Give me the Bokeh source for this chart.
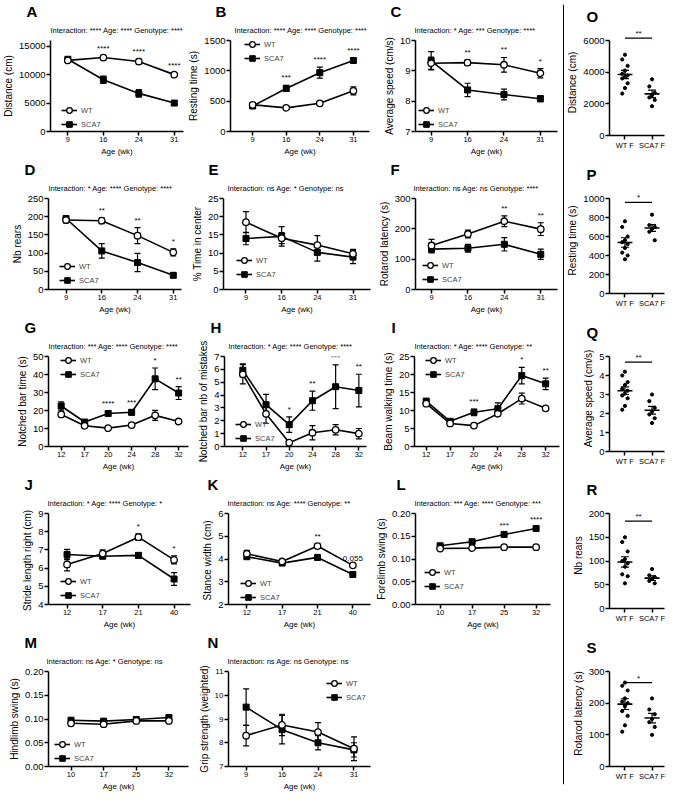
from bokeh.plotting import figure
from bokeh.models import (Range1d, FixedTicker, Whisker, TeeHead, ColumnDataSource,
                          Label, Legend, LegendItem, Span, PrintfTickFormatter, Title)
from bokeh.layouts import row, column
from bokeh.embed import file_html
from bokeh.resources import INLINE
from bokeh.core.properties import value

FONT = "Liberation Sans"

# ---------------- data ----------------
A_age = ["9", "16", "24", "31"]
A_wt = [12500, 13000, 12300, 10000]
A_wt_err = [300, 200, 450, 250]
A_sca = [12700, 9100, 6700, 5000]
A_sca_err = [300, 650, 650, 300]
A_sig = ["", "****", "****", "****"]
A_stats = "Interaction: **** Age: **** Genotype: ****"

B_age = ["9", "16", "24", "31"]
B_wt = [440, 390, 465, 670]
B_wt_err = [25, 25, 20, 65]
B_sca = [420, 710, 970, 1170]
B_sca_err = [25, 50, 90, 40]
B_sig = ["", "***", "****", "****"]
B_stats = "Interaction: **** Age: **** Genotype: ****"

C_age = ["9", "16", "24", "31"]
C_wt = [9.25, 9.27, 9.2, 8.92]
C_wt_err = [0.2, 0.08, 0.24, 0.15]
C_sca = [9.33, 8.37, 8.22, 8.08]
C_sca_err = [0.3, 0.22, 0.18, 0.1]
C_sig = ["", "**", "**", "*"]
C_stats = "Interaction: * Age: *** Genotype: ****"

D_age = ["9", "16", "24", "31"]
D_wt = [191, 189, 148, 102]
D_wt_err = [8, 8, 22, 10]
D_sca = [195, 106, 74, 39]
D_sca_err = [8, 20, 25, 6]
D_sig = ["", "**", "**", "*"]
D_stats = "Interaction: * Age: **** Genotype: ****"

E_age = ["9", "16", "24", "31"]
E_wt = [18.5, 14.1, 12.2, 9.8]
E_wt_err = [2.9, 1.5, 2.6, 1.2]
E_sca = [14.0, 14.6, 10.2, 8.9]
E_sca_err = [1.7, 2.7, 2.4, 1.8]
E_sig = ["", "", "", ""]
E_stats = "Interaction: ns Age: * Genotype: ns"

F_age = ["9", "16", "24", "31"]
F_wt = [145, 183, 225, 199]
F_wt_err = [20, 13, 18, 21]
F_sca = [133, 136, 149, 116]
F_sca_err = [12, 13, 22, 17]
F_sig = ["", "", "**", "**"]
F_stats = "Interaction: ns Age: ns Genotype: ****"

G_age = ["12", "17", "20", "24", "28", "32"]
G_wt = [17.8, 11.5, 10.2, 11.9, 17.3, 13.9]
G_wt_err = [1.0, 1.0, 0.6, 0.8, 2.8, 1.0]
G_sca = [22.5, 13.6, 18.3, 19.0, 37.6, 29.7]
G_sca_err = [2.3, 1.0, 1.5, 1.5, 6.0, 3.6]
G_sig = ["", "", "****", "***", "*", "**"]
G_stats = "Interaction: *** Age: **** Genotype: ****"

H_age = ["12", "17", "20", "24", "28", "32"]
H_wt = [5.62, 2.54, 0.3, 1.07, 1.3, 1.0]
H_wt_err = [0.75, 0.73, 0.1, 0.55, 0.4, 0.4]
H_sca = [5.93, 3.25, 1.7, 3.56, 4.65, 4.35]
H_sca_err = [0.5, 0.8, 0.6, 0.74, 1.7, 1.27]
H_sig = ["", "", "*", "**", "***", "**"]
H_stats = "Interaction: * Age: **** Genotype: ****"

I_age = ["12", "17", "20", "24", "28", "32"]
I_wt = [11.9, 6.4, 5.8, 9.1, 13.3, 10.6]
I_wt_err = [0.5, 0.4, 0.3, 0.6, 1.5, 0.5]
I_sca = [12.6, 7.0, 9.5, 10.5, 19.7, 17.4]
I_sca_err = [0.7, 0.4, 0.9, 1.6, 2.3, 1.6]
I_sig = ["", "", "***", "", "*", "**"]
I_stats = "Interaction: * Age: **** Genotype: **"

J_age = ["12", "17", "21", "40"]
J_wt = [6.2, 6.8, 7.7, 6.45]
J_wt_err = [0.35, 0.2, 0.18, 0.22]
J_sca = [6.75, 6.65, 6.7, 5.4]
J_sca_err = [0.28, 0.1, 0.15, 0.35]
J_sig = ["", "", "*", "*"]
J_stats = "Interaction: * Age: **** Genotype: *"

K_age = ["12", "17", "21", "40"]
K_wt = [4.23, 3.89, 4.57, 3.72]
K_wt_err = [0.15, 0.08, 0.08, 0.06]
K_sca = [4.1, 3.82, 4.07, 3.32]
K_sca_err = [0.06, 0.06, 0.04, 0.05]
K_sig = ["", "", "**", "0.055"]
K_stats = "Interaction: ns Age: **** Genotype: **"

L_age = ["10", "17", "25", "32"]
L_wt = [0.123, 0.124, 0.126, 0.126]
L_wt_err = [0.003, 0.003, 0.002, 0.002]
L_sca = [0.129, 0.138, 0.154, 0.167]
L_sca_err = [0.003, 0.003, 0.003, 0.004]
L_sig = ["", "", "***", "****"]
L_stats = "Interaction: *** Age: **** Genotype: ***"

M_age = ["10", "17", "25", "32"]
M_wt = [0.091, 0.089, 0.096, 0.096]
M_wt_err = [0.003, 0.003, 0.002, 0.002]
M_sca = [0.0975, 0.0955, 0.099, 0.103]
M_sca_err = [0.002, 0.002, 0.002, 0.002]
M_sig = ["", "", "", ""]
M_stats = "Interaction: ns Age: * Genotype: ns"

N_age = ["9", "16", "24", "31"]
N_wt = [8.3, 8.75, 8.45, 7.75]
N_wt_err = [0.43, 0.45, 0.4, 0.5]
N_sca = [9.5, 8.55, 8.0, 7.7]
N_sca_err = [0.77, 0.6, 0.3, 0.3]
N_sig = ["", "", "", ""]
N_stats = "Interaction: ns Age: ns Genotype: ns"

GROUPS = ["WT F", "SCA7 F"]

O_wt = [5100, 4800, 4400, 4100, 3900, 3800, 3700, 3600, 3300, 3000, 2650]
O_sca = [3550, 3100, 2700, 2550, 2400, 2250, 1850]
O_mean = [3850, 2630]
O_sem = [260, 240]
O_sig, O_bar = "**", 6150

P_wt = [760, 700, 600, 560, 540, 520, 480, 430, 400, 360]
P_sca = [830, 720, 700, 680, 650, 560]
P_mean = [537, 690]
P_sem = [50, 35]
P_sig, P_bar = "*", 960

Q_wt = [4.2, 4.0, 3.65, 3.5, 3.3, 3.2, 3.05, 2.95, 2.8, 2.4, 2.2]
Q_sca = [3.0, 2.65, 2.3, 2.1, 1.95, 1.75, 1.5]
Q_mean = [3.2, 2.17]
Q_sem = [0.2, 0.2]
Q_sig, Q_bar = "**", 4.7

R_wt = [150, 140, 120, 104, 100, 95, 88, 72, 68, 53]
R_sca = [83, 70, 66, 62, 58, 53]
R_mean = [98, 64]
R_sem = [11, 5]
R_sig, R_bar = "**", 184

S_wt = [265, 255, 240, 215, 205, 200, 190, 175, 160, 130, 110]
S_sca = [215, 180, 165, 150, 140, 125, 100]
S_mean = [197, 153]
S_sem = [17, 15]
S_sig, S_bar = "*", 265

# ---------------- layout helpers ----------------
SX = 672 / 688.0


def X(v):
    return int(round(v * SX))


ROW_H = [158, 158, 157, 158, 165]
AXIS_TOP = 40     # pixel row of the top of each y axis
FRAME_BOT = 135   # pixel row of each x axis


def geom(fl, ax, ar, fr):
    return X(fr) - X(fl), X(ax) - X(fl), X(fr) - X(ar)


def base_fig(w, h, left, right, xr, yr, letter, letter_dx, top, letter_standoff):
    # the frame may reach above the y axis (top < AXIS_TOP); the axis is bounded
    ext = (FRAME_BOT - top) / float(FRAME_BOT - AXIS_TOP)
    yr_ext = (yr[0], yr[0] + (yr[1] - yr[0]) * ext)
    p = figure(width=w, height=h, output_backend="svg", toolbar_location=None,
               x_range=Range1d(*xr), y_range=Range1d(*yr_ext),
               min_border_left=left, min_border_right=right,
               min_border_top=top, min_border_bottom=h - FRAME_BOT)
    p.title.text = letter
    p.title.align = "left"
    p.title.offset = letter_dx
    p.title.standoff = letter_standoff
    p.title.vertical_align = "bottom"
    p.title.text_font = FONT
    p.title.text_font_size = "15px"
    p.title.text_font_style = "bold"
    p.title.text_color = "black"
    p.xgrid.visible = False
    p.ygrid.visible = False
    p.outline_line_color = None
    p.background_fill_color = "white"
    p.border_fill_color = "white"
    for ax in (p.xaxis[0], p.yaxis[0]):
        ax.axis_line_width = 1.5
        ax.axis_line_color = "black"
        ax.major_tick_line_width = 1.5
        ax.major_tick_line_color = "black"
        ax.major_tick_out = 4
        ax.major_tick_in = 0
        ax.minor_tick_out = 0
        ax.minor_tick_in = 0
        ax.major_label_text_font = FONT
        ax.major_label_text_color = "black"
        ax.axis_label_text_font = FONT
        ax.axis_label_text_font_style = "normal"
        ax.axis_label_text_color = "black"
    p.yaxis[0].bounds = (yr[0], yr[1])
    p.xaxis[0].major_label_text_font_size = "7.5px"
    p.xaxis[0].major_label_standoff = 1
    p.xaxis[0].axis_label_text_font_size = "8px"
    p.xaxis[0].axis_label_standoff = 2
    p.yaxis[0].major_label_text_font_size = "9.5px"
    p.yaxis[0].major_label_standoff = 1
    p.yaxis[0].axis_label_text_font_size = "10px"
    p.yaxis[0].axis_label_standoff = 2
    return p


def whiskers(p, xs, vals, errs, head=6):
    src = ColumnDataSource(dict(x=xs, lo=[v - e for v, e in zip(vals, errs)],
                                hi=[v + e for v, e in zip(vals, errs)]))
    p.add_layout(Whisker(source=src, base="x", lower="lo", upper="hi",
                         line_color="black", line_width=1.2,
                         upper_head=TeeHead(size=head, line_width=1.2, line_color="black"),
                         lower_head=TeeHead(size=head, line_width=1.2, line_color="black")))


def line_panel(g, h, letter, letter_dx, stats, stats_dx, ages, wt, wt_err, sca, sca_err,
               sig, ylabel, yr, yticks, xr, leg, yfmt=None, ytick_size="9.5px"):
    w, left, right = geom(*g)
    p = base_fig(w, h, left, right, xr, yr, letter, letter_dx, AXIS_TOP, 0)
    p.add_layout(Title(text=stats, align="left", offset=stats_dx, standoff=10,
                       vertical_align="middle", text_font=FONT, text_font_size="7.5px",
                       text_font_style="normal", text_color="black"), "above")
    idx = list(range(len(ages)))
    p.xaxis.ticker = FixedTicker(ticks=idx)
    p.xaxis.major_label_overrides = {i: a for i, a in zip(idx, ages)}
    p.xaxis.axis_label = "Age (wk)"
    p.yaxis.ticker = FixedTicker(ticks=yticks)
    p.yaxis.major_label_text_font_size = ytick_size
    if yfmt:
        p.yaxis.formatter = PrintfTickFormatter(format=yfmt)
    p.yaxis.axis_label = ylabel
    whiskers(p, idx, wt, wt_err)
    whiskers(p, idx, sca, sca_err)
    l2 = p.line(idx, sca, line_color="black", line_width=1.6)
    l1 = p.line(idx, wt, line_color="black", line_width=1.6)
    s2 = p.scatter(idx, sca, marker="square", size=6, fill_color="black", line_color="black")
    s1 = p.scatter(idx, wt, marker="circle", size=6.5, fill_color="white",
                   line_color="black", line_width=1.3)
    sx, sy, st = [], [], []
    for i, s in enumerate(sig):
        if s:
            sx.append(i)
            sy.append(max(wt[i] + wt_err[i], sca[i] + sca_err[i]))
            st.append(s)
    if st:
        p.text(x=sx, y=sy, text=st, text_font=value(FONT), text_font_size="8px",
               text_align="center", text_baseline="bottom", y_offset=-3, text_color="black")
    legend = Legend(items=[LegendItem(label="WT", renderers=[l1, s1]),
                           LegendItem(label="SCA7", renderers=[l2, s2])],
                    location=leg, border_line_color=None, background_fill_alpha=0,
                    label_text_font=FONT, label_text_font_size="7.5px",
                    glyph_width=16, glyph_height=14, label_height=14, spacing=0,
                    padding=0, margin=0, label_standoff=4)
    p.add_layout(legend)
    return p


RIGHT_W = 108
DOT_TOP = 29


def dot_panel(h, letter, wt, sca, mean, sem, sig, bar, ylabel, yr, yticks):
    left = X(623) - (672 - RIGHT_W)
    right = RIGHT_W - (X(680) - (672 - RIGHT_W))
    xr = (-0.57, 1.46)
    p = base_fig(RIGHT_W, h, left, right, xr, yr, letter, -23, DOT_TOP, 10)
    p.xaxis.ticker = FixedTicker(ticks=[0, 1])
    p.xaxis.major_label_overrides = {0: GROUPS[0], 1: GROUPS[1]}
    p.yaxis.ticker = FixedTicker(ticks=yticks)
    p.yaxis.axis_label = ylabel
    pattern = [0.0, -0.1, 0.1]
    for gi, vals in enumerate((wt, sca)):
        xs = [gi + pattern[k % 3] for k in range(len(vals))]
        p.scatter(xs, vals, marker="circle", size=3.2, fill_color="black", line_color="black")
    whiskers(p, [0, 1], mean, sem, head=8)
    p.scatter([0, 1], mean, marker="dash", size=15, line_color="black", line_width=1.6)
    bsrc = ColumnDataSource(dict(b=[bar], lo=[0], hi=[1]))
    p.add_layout(Whisker(source=bsrc, base="b", lower="lo", upper="hi", dimension="width",
                         line_color="black", line_width=1.3, upper_head=None, lower_head=None))
    p.add_layout(Label(x=0.5, y=bar, y_offset=0, text=sig, text_font=FONT,
                       text_font_size="8px", text_align="center", text_baseline="bottom",
                       text_color="black"))
    return p


# ---------------- panels ----------------
A = line_panel((0, 49, 187, 189), ROW_H[0], "A", -24, A_stats, 0, A_age, A_wt, A_wt_err, A_sca,
               A_sca_err, A_sig, "Distance (cm)", (0, 16000), [0, 5000, 10000, 15000],
               (-0.49, 3.26), (11, 0))
B = line_panel((189, 228, 378, 382), ROW_H[0], "B", -15, B_stats, 4, B_age, B_wt, B_wt_err, B_sca,
               B_sca_err, B_sig, "Resting time (s)", (0, 1500), [0, 500, 1000, 1500],
               (-0.66, 3.48), (14, 66))
C = line_panel((382, 425, 570, 575), ROW_H[0], "C", -25, C_stats, -1, C_age, C_wt, C_wt_err, C_sca,
               C_sca_err, C_sig, "Average speed (cm/s)", (7, 10), [7, 8, 9, 10],
               (-0.43, 3.47), (3, 0))
D = line_panel((0, 49, 185, 189), ROW_H[1], "D", -24, D_stats, 0, D_age, D_wt, D_wt_err, D_sca,
               D_sca_err, D_sig, "Nb rears", (0, 250), [0, 50, 100, 150, 200, 250],
               (-0.49, 3.23), (11, 2))
E = line_panel((189, 228, 379, 382), ROW_H[1], "E", -15, E_stats, 4, E_age, E_wt, E_wt_err, E_sca,
               E_sca_err, E_sig, "% Time in center", (0, 25), [0, 5, 10, 15, 20, 25],
               (-0.63, 3.49), (13, 8))
F = line_panel((382, 425, 570, 575), ROW_H[1], "F", -25, F_stats, -2, F_age, F_wt, F_wt_err, F_sca,
               F_sca_err, F_sig, "Rotarod latency (s)", (0, 300), [0, 100, 200, 300],
               (-0.44, 3.46), (7, 3))
G = line_panel((0, 49, 192, 200), ROW_H[2], "G", -24, G_stats, 0, G_age, G_wt, G_wt_err, G_sca,
               G_sca_err, G_sig, "Notched bar time (s)", (0, 50), [0, 10, 20, 30, 40, 50],
               (-0.54, 5.42), (12, 65))
H = line_panel((200, 227, 375, 383), ROW_H[2], "H", -14, H_stats, 4, H_age, H_wt, H_wt_err, H_sca,
               H_sca_err, H_sig, "Notched bar nb of mistakes", (0, 7), [0, 1, 2, 3, 4, 5, 6, 7],
               (-0.79, 5.33), (11, 1))
I = line_panel((383, 424, 572, 575), ROW_H[2], "I", -23, I_stats, 0, I_age, I_wt, I_wt_err, I_sca,
               I_sca_err, I_sig, "Beam walking time (s)", (0, 25), [0, 5, 10, 15, 20, 25],
               (-0.49, 5.58), (11, 65))
J = line_panel((0, 49, 195, 200), ROW_H[3], "J", -24, J_stats, -1, J_age, J_wt, J_wt_err, J_sca,
               J_sca_err, J_sig, "Stride length right  (cm)", (4, 9), [4, 5, 6, 7, 8, 9],
               (-0.52, 3.46), (12, 2))
K = line_panel((200, 233, 379, 382), ROW_H[3], "K", -21, K_stats, -1, K_age, K_wt, K_wt_err, K_sca,
               K_sca_err, K_sig, "Stance width  (cm)", (2, 6), [2, 3, 4, 5, 6],
               (-0.52, 3.5), (12, 0))
L = line_panel((382, 421, 563, 575), ROW_H[3], "L", -19, L_stats, -1, L_age, L_wt, L_wt_err, L_sca,
               L_sca_err, L_sig, "Forelimb swing (s)", (0, 0.2), [0, 0.05, 0.1, 0.15, 0.2],
               (-0.77, 3.45), (9, 11), yfmt="%.2f")
M = line_panel((0, 49, 192, 200), ROW_H[4], "M", -24, M_stats, -2, M_age, M_wt, M_wt_err, M_sca,
               M_sca_err, M_sig, "Hindlimb swing (s)", (0, 0.2), [0, 0.05, 0.1, 0.15, 0.2],
               (-0.69, 3.6), (6, 1), yfmt="%.2f")
N = line_panel((200, 233, 379, 575), ROW_H[4], "N", -21, N_stats, -1, N_age, N_wt, N_wt_err, N_sca,
               N_sca_err, N_sig, "Grip strength (weighted)", (7, 11), [7, 8, 9, 10, 11],
               (-0.49, 3.46), (98, 62), ytick_size="8px")

O = dot_panel(ROW_H[0], "O", O_wt, O_sca, O_mean, O_sem, O_sig, O_bar, "Distance (cm)",
              (0, 6000), [0, 2000, 4000, 6000])
P = dot_panel(ROW_H[1], "P", P_wt, P_sca, P_mean, P_sem, P_sig, P_bar, "Resting time (s)",
              (0, 1000), [0, 200, 400, 600, 800, 1000])
Q = dot_panel(ROW_H[2], "Q", Q_wt, Q_sca, Q_mean, Q_sem, Q_sig, Q_bar, "Average speed (cm/s)",
              (0, 5), [0, 1, 2, 3, 4, 5])
R = dot_panel(ROW_H[3], "R", R_wt, R_sca, R_mean, R_sem, R_sig, R_bar, "Nb rears",
              (0, 200), [0, 50, 100, 150, 200])
S = dot_panel(ROW_H[4], "S", S_wt, S_sca, S_mean, S_sem, S_sig, S_bar, "Rotarod latency (s)",
              (0, 300), [0, 100, 200, 300])

# divider line
div = figure(width=2, height=sum(ROW_H), output_backend="svg", toolbar_location=None,
             x_range=Range1d(-1, 1), y_range=Range1d(0, 1), x_axis_type=None, y_axis_type=None,
             min_border=0, min_border_top=4, min_border_bottom=12)
div.outline_line_color = None
div.xgrid.visible = False
div.ygrid.visible = False
div.add_layout(Span(location=0, dimension="height", line_color="black", line_width=1))

left_block = column(row(A, B, C), row(D, E, F), row(G, H, I), row(J, K, L), row(M, N))
right_block = column(O, P, Q, R, S)
layout = row(left_block, div, right_block)

open("out.html", "w").write(file_html(layout, INLINE, title="SCA7 behaviour"))
